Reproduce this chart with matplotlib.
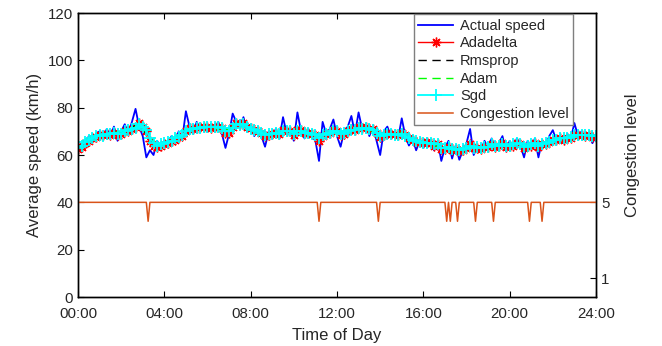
import numpy as np
import matplotlib
matplotlib.use('Agg')
import matplotlib.pyplot as plt

plt.rcParams['font.family'] = ['Liberation Sans', 'DejaVu Sans']

# скорость, 10-минутные шаги (00:00 .. 24:00)
actual_speed = [
    62, 65, 64, 68, 66, 69,
    70, 67, 71, 68, 72, 66,
    70, 73, 69, 74, 79.5, 72,
    68, 59, 62, 60, 66, 63,
    66, 64, 68, 66, 70, 67,
    78.5, 72, 69, 74, 71, 73,
    70, 73, 71, 74, 69, 63,
    69, 77.5, 74, 72, 76, 70,
    72, 68, 71, 68, 63.5, 70,
    68, 71, 67, 76, 69, 71,
    66, 78, 70, 67, 71, 68,
    66, 57.5, 74, 69, 71, 75,
    68, 63.5, 70, 72, 76.5, 69,
    78, 71, 73, 68, 72, 66,
    60, 70, 72, 68, 70, 67,
    75.5, 68, 64, 67, 62, 66,
    63, 67, 64, 62, 66, 57.5,
    63, 66, 58.5, 64, 58, 62,
    65, 71, 60, 64, 62, 66,
    63, 67, 62, 65, 68, 61.5,
    66, 63, 67, 64, 59, 66,
    63, 67, 59, 66, 64, 68,
    70.5, 66, 68, 65, 69, 67,
    73.5, 68, 70, 67, 69, 65,
    68,
]

adadelta = [
    62.5, 63.5, 65, 66, 67, 67.5,
    68.5, 68.5, 69, 68.5, 69.5, 68.5,
    69, 70, 70, 71, 72, 73.5,
    72, 70, 66, 64, 63.5, 64,
    64.5, 65, 66, 66.5, 67.5, 68,
    70, 71.5, 71, 71.5, 72, 72,
    72, 71.5, 72, 72, 71.5, 69.5,
    69.5, 72, 73.5, 73, 73.5, 72,
    71.5, 70.5, 70, 69.5, 68, 68.5,
    69, 69.5, 69, 70.5, 70, 70,
    68.5, 70.5, 70.5, 69.5, 69.5, 69,
    68.5, 66, 68, 69, 69.5, 70.5,
    70, 68.5, 69, 70, 71, 70.5,
    72, 71.5, 72, 71, 71, 69.5,
    67.5, 68.5, 69.5, 69, 69, 68.5,
    69.5, 68.5, 67, 66.5, 65.5, 65.5,
    65, 65.5, 65, 64, 64.5, 62.5,
    62.5, 63.5, 62, 62.5, 61.5, 62,
    63, 64.5, 63, 63, 62.5, 63.5,
    63.5, 64.5, 63.5, 64, 65, 63.5,
    64, 64, 65, 64.5, 63, 64,
    64, 65, 63.5, 64.5, 64.5, 65.5,
    66.5, 66.5, 67, 66.5, 67, 67,
    68.5, 68.5, 68.5, 68, 68.5, 67.5,
    67.5,
]

sgd = [
    63, 64, 65.5, 66.5, 67, 68,
    68.5, 68, 69, 69, 69.5, 69,
    69, 70, 70.5, 71, 71.5, 73,
    72, 70.5, 67, 65, 64, 64.5,
    65, 65.5, 66, 67, 67.5, 68.5,
    70, 71, 71, 71.5, 71.5, 72,
    72, 72, 72, 72, 71.5, 70,
    70, 71.5, 73, 72.5, 73, 72,
    71, 70.5, 70, 69.5, 68.5, 69,
    69, 69.5, 69, 70, 70, 70,
    69, 70, 70, 69.5, 69.5, 69,
    68.5, 67, 68.5, 69, 69.5, 70,
    70, 69, 69.5, 70, 70.5, 70.5,
    71.5, 71, 71.5, 71, 70.5, 69.5,
    68, 68.5, 69, 69, 68.5, 68.5,
    69, 68, 67, 66.5, 66, 65.5,
    65, 65, 65, 64.5, 64.5, 63,
    63, 63.5, 62.5, 62.5, 62, 62.5,
    63, 64, 63, 63.5, 63, 63.5,
    63.5, 64.5, 64, 64, 64.5, 64,
    64, 64.5, 65, 64.5, 63.5, 64,
    64.5, 65, 64, 64.5, 65, 65.5,
    66.5, 66.5, 67, 67, 67, 67.5,
    68.5, 68.5, 68.5, 68.5, 68.5, 68,
    68,
]

# 20-минутные шаги
rmsprop = [
    63, 65.5, 67.5, 68.5, 69, 69.5, 69.5, 70.5, 72.5,
    71, 66.5, 64, 65, 66.5, 68, 70.5, 71.5, 72,
    72, 72, 70.5, 70.5, 73, 72.5, 71, 70, 68.5,
    69, 69.5, 70, 69, 70.5, 69.5, 68.5, 68.5, 69.5,
    70, 69.5, 70.5, 71.5, 71.5, 70.5, 68, 69, 69,
    69, 67, 66, 65, 65, 64, 63, 62.5, 62,
    63, 63, 63, 63.5, 64, 64.5, 64, 65, 64,
    64.5, 64, 65, 66.5, 67, 67, 68.5, 68.5, 68,
    68,
]

adam = [
    62.5, 66, 67.5, 68.5, 68.5, 69.5, 70, 70.5, 72,
    71.5, 67, 64.5, 64.5, 66.5, 68.5, 70, 71.5, 72,
    72, 71.5, 70, 71, 73.5, 72.5, 71.5, 69.5, 68.5,
    69, 69, 70, 69.5, 70, 69.5, 68, 68.5, 70,
    69.5, 70, 70.5, 71.5, 71, 70, 68.5, 69, 68.5,
    69.5, 67, 65.5, 65, 65, 63.5, 63, 62, 62.5,
    63, 63.5, 63, 63.5, 64.5, 64, 64, 65, 64,
    64.5, 64.5, 65, 66.5, 67, 67.5, 68.5, 68.5, 68.5,
    68,
]

# уровень пробки: базовый 5, короткие провалы до 4
base_level = 5
dip_level = 4
dip_times = ['03:15', '11:10', '13:55', '17:05', '17:15', '17:35',
             '18:25', '19:15', '20:55', '21:30']

tick_hours = [0, 4, 8, 12, 16, 20, 24]
tick_labels = ['00:00', '04:00', '08:00', '12:00', '16:00', '20:00', '24:00']


def hours(n, step_min):
    return np.arange(n) * step_min / 60.0


def make_congestion():
    t = hours(24 * 12 + 1, 5)
    lev = np.full(len(t), float(base_level))
    for s in dip_times:
        hh, mm = s.split(':')
        idx = (int(hh) * 60 + int(mm)) // 5
        lev[idx] = dip_level
    return t, lev


txt = '#262626'
fig = plt.figure(figsize=(6.62, 3.46), dpi=100)
ax = fig.add_axes([0.1178, 0.1416, 0.9003 - 0.1178, 0.9624 - 0.1416])
ax2 = ax.twinx()

t10 = hours(len(actual_speed), 10)
t20 = hours(len(rmsprop), 20)

h1, = ax.plot(t10, actual_speed, color='#0000FF', lw=1.3, label='Actual speed')
h2, = ax.plot(hours(len(adadelta), 10), adadelta, color='#FF0000', lw=1.0,
              marker=(8, 2, 0), ms=7, mew=1.0, label='Adadelta')
h3, = ax.plot(t20, rmsprop, color='black', lw=1.0, ls=(0, (6, 4)), label='Rmsprop')
h4, = ax.plot(hours(len(adam), 20), adam, color='#00FF00', lw=1.0, ls=(0, (6, 4)),
              label='Adam')
h5, = ax.plot(hours(len(sgd), 10), sgd, color='#00FFFF', lw=1.3,
              marker='+', ms=8, mew=1.3, label='Sgd')

tc, lev = make_congestion()
h6, = ax2.plot(tc, lev, color='#D95319', lw=1.1, label='Congestion level')

ax.set_xlim(0, 24)
ax.set_ylim(0, 120)
ax.set_yticks(range(0, 121, 20))
ax.set_xticks(tick_hours)
ax.set_xticklabels(tick_labels)
ax2.set_ylim(0, 15)
ax2.set_yticks([1, 5])

ax.tick_params(axis='x', pad=7)
ax.tick_params(direction='in', length=4, labelsize=10.8, top=True, width=0.8,
               labelcolor=txt)
ax2.tick_params(direction='in', length=4, labelsize=10.8, width=0.8,
                labelcolor=txt)
for a in (ax, ax2):
    for sp in a.spines.values():
        sp.set_linewidth(1.0)

ax.set_xlabel('Time of Day', fontsize=12, labelpad=5, color=txt)
ax.set_ylabel('Average speed (km/h)', fontsize=12, labelpad=4, color=txt)
ax2.set_ylabel('Congestion level', fontsize=12, labelpad=11, color=txt)

leg = ax2.legend(handles=[h1, h2, h3, h4, h5, h6], loc='upper right',
                 bbox_to_anchor=(0.9556, 0.995), fontsize=10.5,
                 fancybox=False, framealpha=1, edgecolor='#7f7f7f',
                 handlelength=2.4, handletextpad=0.45, labelspacing=0.25,
                 borderpad=0.3, borderaxespad=0)
leg.get_frame().set_linewidth(1.0)
for t in leg.get_texts():
    t.set_color(txt)

fig.savefig('out.png', dpi=100)
